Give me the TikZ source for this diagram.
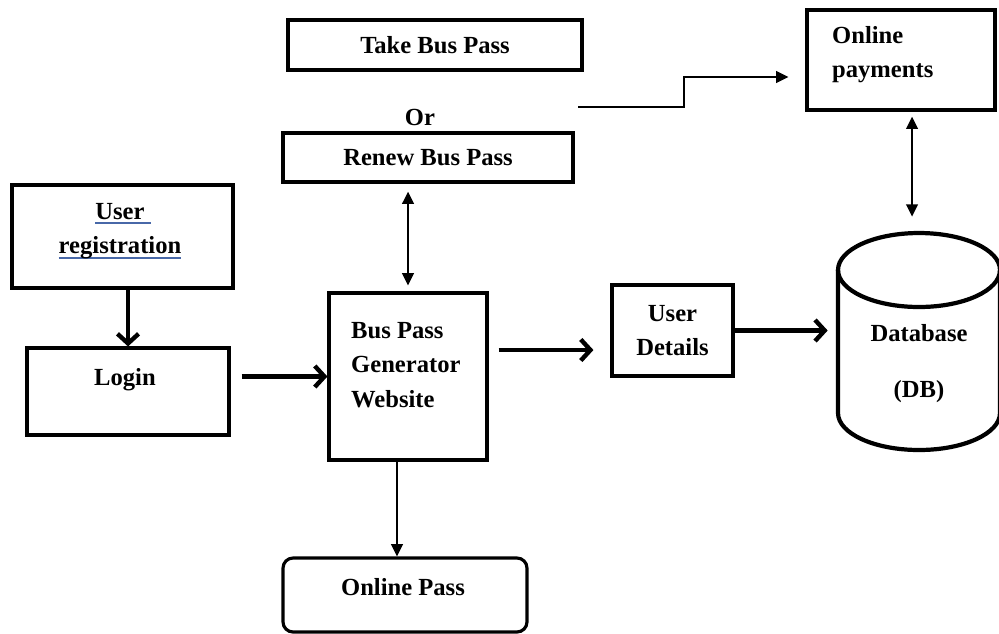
\documentclass[tikz,border=0pt]{standalone}
\usepackage{fontspec}
\setmainfont{Liberation Serif}
\usetikzlibrary{arrows.meta}
\definecolor{linkblue}{RGB}{72,104,168}
\newcommand{\linkul}[1]{\setbox0\hbox{#1}\rlap{\color{linkblue}\rule[-3pt]{\wd0}{1.2pt}}#1}

\begin{document}
\begin{tikzpicture}
  [x=0.02cm,y=-0.02cm,
   every node/.style={font=\fontsize{14}{19.5}\selectfont\bfseries},
   box/.style={draw,line width=1.8pt,inner sep=0pt},
   heavy/.style={line width=2.5pt,-{Straight Barb[length=5.5pt,width=12pt]}},
   slim/.style={line width=1.4pt,-{Triangle[length=7pt,width=6.5pt]}},
   twoway/.style={line width=1.4pt,{Triangle[length=7pt,width=6.5pt]}-{Triangle[length=7pt,width=6.5pt]}}]
  \useasboundingbox (0,0) rectangle (999,633);

  \node[box,minimum width=5.88cm,minimum height=1cm] (take) at (435,45) {Take Bus Pass};
  \node (or) at (420,117) {Or};
  \node[box,minimum width=5.8cm,minimum height=0.98cm] (renew) at (428,157.5) {Renew Bus Pass};
  \node[box,minimum width=4.42cm,minimum height=2.06cm] (reg) at (122.5,236.5) {};
  \node[align=center] (reg-t) at (120,231) {\linkul{User\ }\\\linkul{registration}};
  \node[box,minimum width=4.04cm,minimum height=1.74cm] (login) at (128,391.5) {};
  \node (login-t) at (125,380) {Login};
  \node[box,minimum width=3.16cm,minimum height=3.34cm] (gen) at (408,376.5) {};
  \node[anchor=west,align=left] (gen-t) at (345,365) {Bus Pass\\Generator\\Website};
  \node[box,rounded corners=0.2cm,minimum width=4.88cm,minimum height=1.48cm] (pass) at (405,595) {};
  \node (pass-t) at (403,587) {Online Pass};
  \node[box,minimum width=2.42cm,minimum height=1.82cm,align=center] (details) at (672.5,330.5) {User\\Details};
  \node[box,minimum width=3.76cm,minimum height=2cm] (pay) at (901,60) {};
  \node[anchor=west,align=left] (pay-t) at (826,54.5) {Online\\payments};
  \node[minimum width=3.24cm,minimum height=4.34cm,inner sep=0pt] (db) at (919,341.5) {};
  \draw[line width=2.4pt] (838,270) -- (838,413) arc[start angle=180,end angle=360,x radius=1.62cm,y radius=0.74cm] -- (1000,270);
  \draw[line width=2.4pt] (919,270) ellipse [x radius=1.62cm,y radius=0.74cm];
  \node (db-t) at (919,333) {Database};
  \node (db-s) at (919,392) {(DB)};

  \draw[heavy] (reg.south -| login.north) -- (login.north);
  \draw[heavy,shorten <=0.22cm] (login.east |- gen.west) -- (gen.west);
  \draw[heavy,shorten <=0.2cm,shorten >=0.34cm] (gen.east |- 0,350) -- (details.west |- 0,350);
  \draw[heavy,shorten >=0.2cm] (details.east) -- (details.east -| db.west);
  \draw[twoway,shorten <=0.16cm,shorten >=0.12cm] (gen.north |- renew.south) -- (gen.north);
  \draw[slim] (397,0 |- gen.south) -- (397,0 |- pass.north);
  \coordinate (fromrenew) at (578,107);
  \draw[slim,shorten >=0.34cm] (fromrenew) -- (684,107) |- (pay.west |- 0,77);
  \draw[twoway,shorten <=0.1cm,shorten >=0.32cm] (912,0 |- pay.south) -- (912,0 |- db.north);
\end{tikzpicture}
\end{document}
